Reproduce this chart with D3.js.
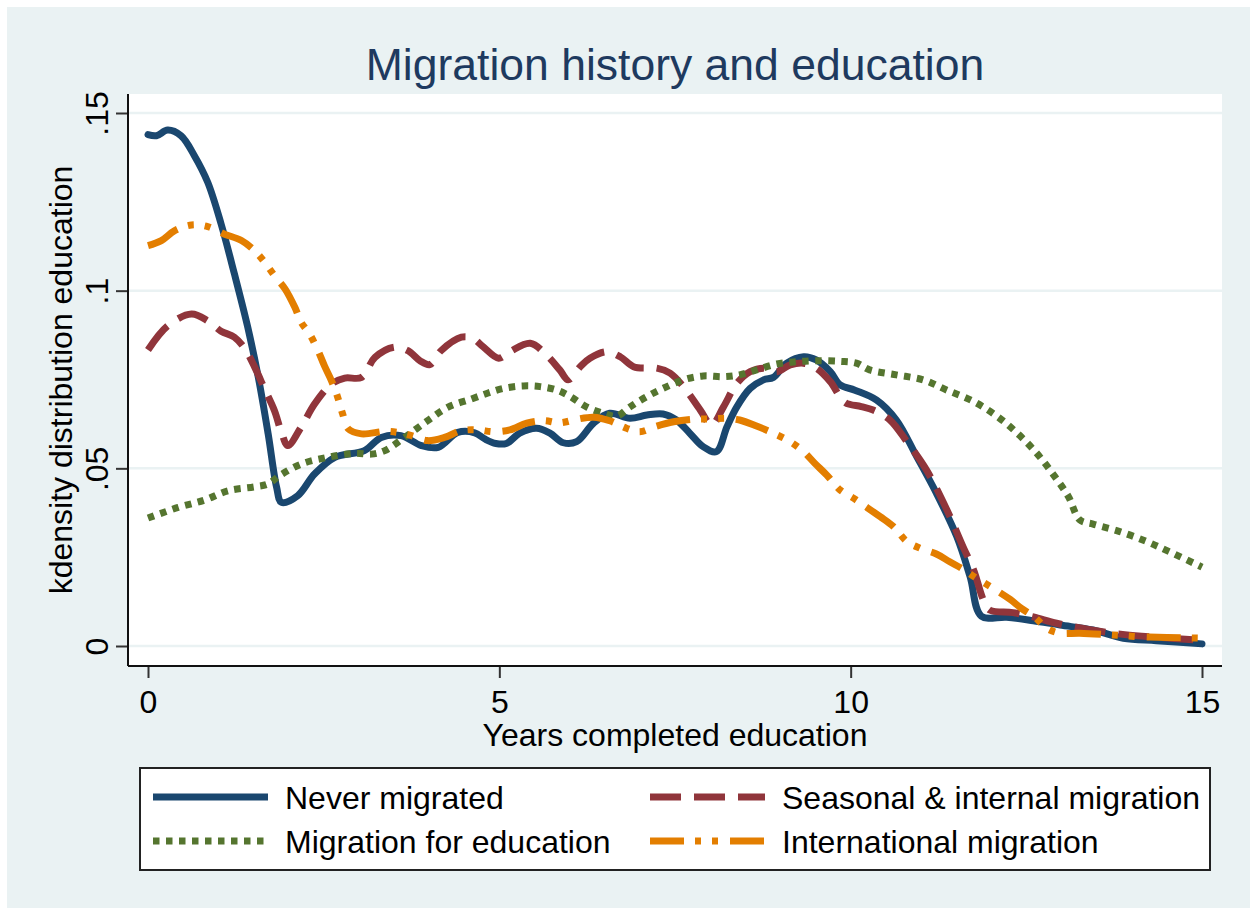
<!DOCTYPE html>
<html>
<head>
<meta charset="utf-8">
<script src="https://cdn.jsdelivr.net/npm/d3@7"></script>
<style>
  body { margin: 0; background: #fff; }
  svg { display: block; font-family: "Liberation Sans", Arial, sans-serif; }
</style>
</head>
<body>
<div id="chart"></div>
<script>
var width = 1250,
  height = 909;

// kdensity estimates: [years, density]
var neverMigrated = [[0, .1439], [0.12, .1436], [0.28, .1452], [0.47, .1436], [0.66, .138], [0.85, .1305],
  [1.04, .1188], [1.23, .1047], [1.42, .0897], [1.57, .0756], [1.71, .0597], [1.83, .0447], [1.90, .0404],
  [2.13, .0423], [2.37, .0484], [2.66, .0531], [3.08, .0550], [3.32, .0587], [3.60, .0592], [3.89, .0564],
  [4.13, .0559], [4.41, .0601], [4.65, .0600], [4.80, .0582], [4.95, .0570], [5.10, .0570], [5.29, .0599],
  [5.53, .0613], [5.72, .0599], [5.91, .0572], [6.10, .0575], [6.34, .0627], [6.57, .0655], [6.86, .0641],
  [7.10, .0650], [7.33, .0653], [7.52, .0636], [7.71, .0599], [7.90, .0561], [8.09, .0547], [8.24, .0617],
  [8.38, .0673], [8.57, .0725], [8.76, .0749], [8.90, .0756], [9.09, .0796], [9.33, .0814], [9.51, .0805],
  [9.71, .0772], [9.85, .0735], [10.06, .0720], [10.37, .0692], [10.65, .0636], [10.94, .0533], [11.22, .0430],
  [11.51, .0308], [11.70, .0195], [11.86, .0084], [12.22, .0081], [12.60, .0071], [12.98, .0059], [13.45, .0045],
  [13.88, .0022], [14.35, .0015], [15, .0006]];

var seasonalInternal = [[0, .0833], [0.28, .0901], [0.62, .0934], [0.85, .0915], [1.04, .0886], [1.23, .0869],
  [1.38, .0836], [1.52, .0784], [1.66, .0723], [1.80, .0662], [1.90, .0601], [1.99, .0564], [2.18, .0616],
  [2.37, .0681], [2.61, .0737], [2.80, .0754], [3.04, .0756], [3.23, .0812], [3.51, .0841], [3.70, .0831],
  [3.87, .0803], [4.01, .0792], [4.17, .0831], [4.46, .0869], [4.62, .0866], [4.77, .0842], [4.99, .0810],
  [5.15, .0828], [5.44, .0852], [5.67, .0819], [5.86, .0777], [5.98, .0749], [6.15, .0786], [6.29, .0810],
  [6.53, .0828], [6.72, .0814], [6.91, .0786], [7.10, .0782], [7.24, .0782], [7.43, .0768], [7.62, .0730],
  [7.86, .0664], [8.02, .0622], [8.19, .0673], [8.38, .0739], [8.57, .0772], [8.76, .0782], [8.95, .0772],
  [9.14, .0791], [9.33, .0796], [9.51, .0782], [9.71, .0744], [9.92, .0685], [10.15, .0674], [10.32, .0664],
  [10.56, .0636], [10.80, .0575], [11.08, .0495], [11.37, .0383], [11.60, .0279], [11.75, .0214], [11.89, .0129],
  [11.98, .0101], [12.31, .0094], [12.60, .0082], [12.93, .0064], [13.40, .0046], [13.90, .0032], [14.40, .0024],
  [15, .0016]];

var educationMigration = [[0, .0360], [0.43, .0390], [0.81, .0411], [1.14, .0437], [1.52, .0448], [1.71, .0456],
  [1.87, .0479], [2.18, .0512], [2.56, .0531], [2.94, .0542], [3.18, .0540], [3.37, .0550], [3.65, .0587],
  [3.98, .0634], [4.27, .0672], [4.60, .0695], [4.84, .0712], [5.06, .0725], [5.34, .0732], [5.58, .0730],
  [5.82, .0720], [6.01, .0702], [6.24, .0673], [6.48, .0655], [6.67, .0647], [6.86, .0673], [7.10, .0702],
  [7.33, .0725], [7.62, .0749], [7.90, .0760], [8.19, .0758], [8.42, .0763], [8.66, .0777], [8.95, .0794],
  [9.23, .0800], [9.51, .0803], [9.85, .0801], [10.08, .0796], [10.27, .0777], [10.65, .0763], [11.03, .0749],
  [11.37, .0720], [11.75, .0688], [12.08, .0647], [12.37, .0599], [12.65, .0542], [12.89, .0481], [13.10, .0420],
  [13.26, .0355], [13.45, .0343], [13.83, .0322], [14.21, .0294], [14.54, .0265], [15, .0222]];

var internationalMigration = [[0, .1127], [0.19, .1141], [0.38, .1169], [0.62, .1185], [0.85, .1180], [1.09, .1159],
  [1.33, .1141], [1.52, .1112], [1.66, .1080], [1.80, .1042], [1.95, .1005], [2.09, .0953], [2.18, .0911],
  [2.30, .0878], [2.42, .0831], [2.51, .0789], [2.61, .0747], [2.70, .0700], [2.77, .0653], [2.85, .0611],
  [3.04, .0597], [3.37, .0604], [3.56, .0601], [3.75, .0592], [3.98, .0578], [4.22, .0587], [4.46, .0606],
  [4.70, .0608], [4.91, .0603], [5.15, .0608], [5.39, .0627], [5.63, .0634], [5.86, .0628], [6.10, .0638],
  [6.34, .0644], [6.57, .0634], [6.81, .0613], [7.00, .0603], [7.24, .0619], [7.48, .0631], [7.76, .0638],
  [8.00, .0639], [8.24, .0641], [8.42, .0636], [8.66, .0619], [8.90, .0599], [9.14, .0575], [9.33, .0547],
  [9.49, .0514], [9.66, .0481], [9.85, .0439], [10.04, .0416], [10.18, .0397], [10.42, .0364], [10.61, .0336],
  [10.80, .0294], [10.99, .0275], [11.22, .0259], [11.41, .0237], [11.60, .0216], [11.79, .0191], [12.03, .0162],
  [12.27, .0131], [12.43, .0106], [12.62, .0081], [12.79, .0050], [12.98, .0036], [13.26, .0036], [13.74, .0031],
  [14.12, .0026], [14.50, .0024], [15, .0022]];

var seriesNames = ["Never migrated", "Seasonal & internal migration", "Migration for education", "International migration"];
var xTicks = [0, 5, 10, 15];
var yTicks = [0, .05, .1, .15];

var series = [
  { name: seriesNames[0], values: neverMigrated, color: "#1A476F", dash: null },
  { name: seriesNames[1], values: seasonalInternal, color: "#90353B", dash: "31,13" },
  { name: seriesNames[2], values: educationMigration, color: "#55752F", dash: "6.5,6.5" },
  { name: seriesNames[3], values: internationalMigration, color: "#E37E00", dash: "34,11,6,11,6,12" }
];

// plot region
var plot = { left: 128, top: 94, right: 1222, bottom: 666 };

var x = d3.scaleLinear().domain([0, 15]).range([148, 1202]);
var y = d3.scaleLinear().domain([0, .15]).range([646, 113]);

var svg = d3.select("#chart")
  .append("svg")
  .attr("width", width)
  .attr("height", height);

svg.append("rect")
  .attr("x", 7).attr("y", 7)
  .attr("width", width - 7).attr("height", height - 8)
  .attr("fill", "#EAF2F3");

svg.append("rect")
  .attr("x", plot.left).attr("y", plot.top)
  .attr("width", plot.right - plot.left).attr("height", plot.bottom - plot.top)
  .attr("fill", "#fff");

// gridlines
svg.append("g")
  .selectAll("line")
  .data(yTicks)
  .enter()
  .append("line")
  .attr("x1", plot.left).attr("x2", plot.right)
  .attr("y1", function (d) { return y(d); })
  .attr("y2", function (d) { return y(d); })
  .attr("stroke", "#EAF2F3")
  .attr("stroke-width", 2.5);

// lines
var line = d3.line()
  .x(function (d) { return x(d[0]); })
  .y(function (d) { return y(d[1]); })
  .curve(d3.curveCatmullRom.alpha(0.5));

svg.append("g")
  .selectAll("path")
  .data(series)
  .enter()
  .append("path")
  .attr("d", function (d) { return line(d.values); })
  .attr("fill", "none")
  .attr("stroke", function (d) { return d.color; })
  .attr("stroke-width", 7)
  .attr("stroke-linejoin", "round")
  .attr("stroke-linecap", function (d) { return d.dash ? "butt" : "round"; })
  .attr("stroke-dasharray", function (d) { return d.dash; });

// axes
var yAxis = svg.append("g")
  .attr("transform", "translate(" + plot.left + ",0)")
  .call(d3.axisLeft(y).tickValues(yTicks).tickSize(12)
    .tickFormat(function (d) { return d === 0 ? "0" : d3.format(".2~f")(d).replace(/^0/, ""); }));

var xAxis = svg.append("g")
  .attr("transform", "translate(0," + plot.bottom + ")")
  .call(d3.axisBottom(x).tickValues(xTicks).tickSize(12));

[xAxis, yAxis].forEach(function (a) {
  a.select(".domain").remove();
  a.selectAll(".tick line").attr("stroke", "#333").attr("stroke-width", 2);
  a.selectAll(".tick text")
    .attr("fill", "#000")
    .style("font-size", "32px")
    .style("font-family", "'Liberation Sans', Arial, sans-serif");
});

yAxis.selectAll(".tick text")
  .attr("transform", "rotate(-90)")
  .attr("x", 0)
  .attr("y", -20)
  .attr("dy", null)
  .attr("text-anchor", "middle");

xAxis.selectAll(".tick text")
  .attr("y", 47)
  .attr("dy", null);

svg.append("line")
  .attr("x1", plot.left).attr("x2", plot.left)
  .attr("y1", plot.top).attr("y2", plot.bottom)
  .attr("stroke", "#111").attr("stroke-width", 2);

svg.append("line")
  .attr("x1", plot.left).attr("x2", plot.right)
  .attr("y1", plot.bottom).attr("y2", plot.bottom)
  .attr("stroke", "#111").attr("stroke-width", 2);

// titles
svg.append("text")
  .attr("x", 675).attr("y", 80)
  .attr("text-anchor", "middle")
  .attr("fill", "#1E3A5F")
  .style("font-size", "44.5px")
  .text("Migration history and education");

svg.append("text")
  .attr("x", 675).attr("y", 746)
  .attr("text-anchor", "middle")
  .style("font-size", "32px")
  .text("Years completed education");

svg.append("text")
  .attr("transform", "translate(72,380)rotate(-90)")
  .attr("text-anchor", "middle")
  .style("font-size", "32px")
  .text("kdensity distribution education");

// legend
svg.append("rect")
  .attr("x", 140).attr("y", 768)
  .attr("width", 1070).attr("height", 102)
  .attr("fill", "#fff")
  .attr("stroke", "#222")
  .attr("stroke-width", 2);

var legendPos = [[153, 797], [650, 797], [153, 841], [650, 841]];

var item = svg.append("g")
  .selectAll("g")
  .data(series)
  .enter()
  .append("g")
  .attr("transform", function (d, i) { return "translate(" + legendPos[i][0] + "," + legendPos[i][1] + ")"; });

item.append("line")
  .attr("x1", 0).attr("x2", 115)
  .attr("stroke", function (d) { return d.color; })
  .attr("stroke-width", 7)
  .attr("stroke-dasharray", function (d) { return d.dash; });

item.append("text")
  .attr("x", 132).attr("y", 12)
  .style("font-size", "32px")
  .text(function (d) { return d.name; });
</script>
</body>
</html>
